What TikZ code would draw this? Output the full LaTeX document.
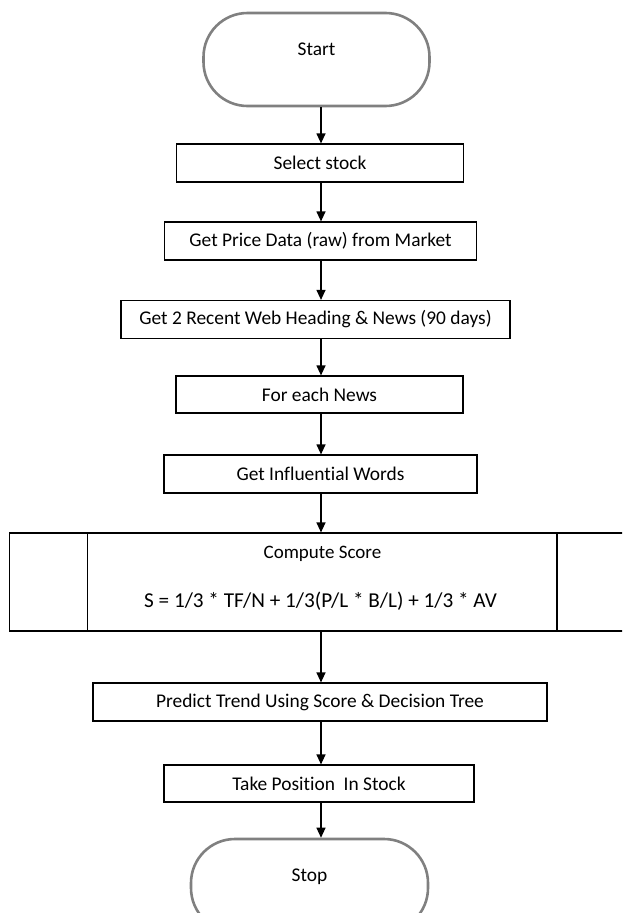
\documentclass[tikz,border=0pt]{standalone}
\usepackage{fontspec}
\setmainfont{Carlito}[Ligatures={NoCommon}]
\usetikzlibrary{arrows.meta}
\definecolor{termgray}{RGB}{128,128,128}
\begin{document}
\begin{tikzpicture}[x=1pt,y=-1pt,
  box/.style={draw=black,line width=1.2pt,rectangle,minimum height=38pt,inner sep=0pt,
    font=\fontsize{19.4}{22}\selectfont},
  term/.style={draw=termgray,line width=2.6pt,rectangle,rounded corners=44pt,
    minimum height=93pt,inner sep=0pt,font=\fontsize{19.4}{22}\selectfont,
    text height=13pt,text depth=21.6pt},
  procbox/.style={draw=black,line width=1.2pt,rectangle,minimum width=626pt,
    minimum height=98pt,inner sep=0pt},
  arr/.style={-{Triangle[length=10pt,width=9pt]},line width=1.2pt}]
\useasboundingbox (0,0) rectangle (622,913);
\clip (0,0) rectangle (622,913);

\node[term,minimum width=226pt] (start) at (316.5,59.5) {Start};
\node[box,minimum width=287pt] (sel) at (320,163) {Select stock};
\node[box,minimum width=312pt] (price) at (320.5,241) {Get Price Data (raw) from Market};
\node[box,minimum width=389pt] (recent) at (315.5,319.5) {Get 2 Recent Web Heading \& News (90 days)};
\node[box,minimum width=287pt,minimum height=37pt] (news) at (319.5,394.5) {For each News};
\node[box,minimum width=313pt] (words) at (320.5,474) {Get Influential Words};
\node[procbox] (comp) at (322.3,582) {};
\draw[line width=1.2pt] (87.7,532.7) coordinate (il1) -- (87.7,631) coordinate (il2);
\draw[line width=1.2pt] (557,532.7) coordinate (ir1) -- (557,631) coordinate (ir2);
\node[font=\fontsize{19}{22}\selectfont,inner sep=0pt] (ctitle) at (322.5,554) {Compute Score};
\node[font=\fontsize{21.2}{25}\selectfont,inner sep=0pt] (cform) at (320.5,601) {S = 1/3 * TF/N + 1/3(P/L * B/L) + 1/3 * AV};
\node[box,minimum width=454pt] (pred) at (320,702) {Predict Trend Using Score \& Decision Tree};
\node[box,minimum width=310pt,minimum height=37pt] (take) at (319,783.5) {Take Position \ In Stock};
\node[term,minimum width=237pt] (stop) at (309.5,885.5) {Stop};

\draw[arr] (start.south -| 321,0) -- (sel.north -| 321,0);
\draw[arr] (sel.south -| 321,0) -- (price.north -| 321,0);
\draw[arr] (price.south -| 321,0) -- (recent.north -| 321,0);
\draw[arr] (recent.south -| 321,0) -- (news.north -| 321,0);
\draw[arr] (news.south -| 321,0) -- (words.north -| 321,0);
\draw[arr] (words.south -| 321,0) -- (comp.north -| 321,0);
\draw[arr] (comp.south -| 321,0) -- (pred.north -| 321,0);
\draw[arr] (pred.south -| 321,0) -- (take.north -| 321,0);
\draw[arr] (take.south -| 321,0) -- (stop.north -| 321,0);
\end{tikzpicture}
\end{document}
